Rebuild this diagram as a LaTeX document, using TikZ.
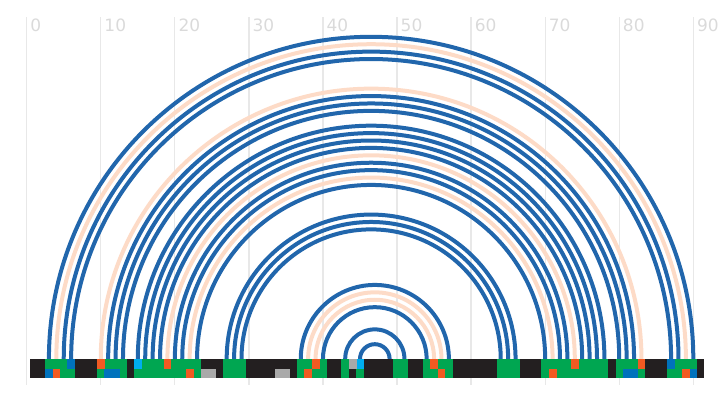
\documentclass[tikz,border=0pt]{standalone}
\usepackage{fontspec}
\setsansfont{DejaVu Sans}
\definecolor{arcblue}{HTML}{2166AC}
\definecolor{arcpeach}{HTML}{FDDBC7}
\definecolor{gridgray}{HTML}{E8E8E8}
\definecolor{labelgray}{HTML}{DADADA}
\definecolor{barblack}{HTML}{231F20}
\definecolor{cgreen}{HTML}{00A651}
\definecolor{cblue}{HTML}{0072BC}
\definecolor{corange}{HTML}{F15A22}
\definecolor{ccyan}{HTML}{00AEEF}
\definecolor{cgray}{HTML}{A9A9A9}
\newcommand{\px}[1]{(26.7+7.4067*(#1))}
\newcommand{\pairarc}[3]{\draw[#1] (n#2) arc[start angle=180, end angle=0, radius={(#3-#2)/2*7.4067}];}
\newcommand{\cellrow}[3]{\foreach \k in {#3} {\fill[#1] ({26.7+7.4067*(\k-0.5)},#2) rectangle ({26.7+7.4067*(\k+0.5)+0.3},#2+9.5);}}
\tikzset{
  bluearc/.style={draw=arcblue, line width=4pt},
  peacharc/.style={draw=arcpeach, line width=4pt},
  gridline/.style={draw=gridgray, line width=1.3pt},
  ticklabel/.style={text=labelgray, font=\sffamily\fontsize{17}{17}\selectfont, inner sep=0pt, anchor=base west},
}
\begin{document}
\begin{tikzpicture}[x=1pt,y=1pt]
\useasboundingbox (0,0) rectangle (728,400);
% grid and labels
\foreach \v in {0,10,...,90} {
  \draw[gridline] ({26.7+7.4067*\v},15) -- ({26.7+7.4067*\v},383);
  \node[ticklabel] (lab\v) at ({26.7+7.4067*\v+3.5},368.3) {\v};
}
% positions
\foreach \i in {1,...,91} {\coordinate (n\i) at ({26.7+7.4067*\i},41);}
% arcs centred at 46.5
\pairarc{bluearc}{3}{90}
\pairarc{peacharc}{4}{89}
\pairarc{bluearc}{5}{88}
\pairarc{bluearc}{6}{87}
\pairarc{peacharc}{10}{83}
\pairarc{bluearc}{11}{82}
\pairarc{bluearc}{12}{81}
\pairarc{bluearc}{13}{80}
\pairarc{bluearc}{15}{78}
\pairarc{bluearc}{16}{77}
\pairarc{bluearc}{17}{76}
\pairarc{bluearc}{18}{75}
\pairarc{peacharc}{19}{74}
\pairarc{bluearc}{20}{73}
\pairarc{bluearc}{21}{72}
\pairarc{peacharc}{22}{71}
\pairarc{bluearc}{23}{70}
\pairarc{bluearc}{27}{66}
\pairarc{bluearc}{28}{65}
\pairarc{bluearc}{29}{64}
% arcs centred at 47
\pairarc{bluearc}{37}{57}
\pairarc{peacharc}{38}{56}
\pairarc{peacharc}{39}{55}
\pairarc{bluearc}{40}{54}
\pairarc{bluearc}{43}{51}
\pairarc{bluearc}{45}{49}
% bar
\fill[barblack] ({26.7+7.4067*0.5},22) rectangle ({26.7+7.4067*91.5},41);
% top row
\cellrow{cgreen}{31.5}{3,4,5,11,12,13,16,17,18,20,21,22,23,27,28,29,37,38,40,43,50,51,54,56,57,64,65,66,70,71,72,73,75,76,77,78,80,81,82,88,89,90}
\cellrow{cblue}{31.5}{6,87}
\cellrow{corange}{31.5}{10,19,39,55,74,83}
\cellrow{ccyan}{31.5}{15,45}
\cellrow{cgray}{31.5}{44}
% bottom row
\cellrow{cgreen}{22}{5,6,10,13,15,16,17,18,19,20,21,23,27,28,29,37,39,40,43,45,50,51,54,55,57,64,65,66,70,72,73,74,75,76,77,78,80,83,87,88}
\cellrow{cblue}{22}{3,11,12,81,82,90}
\cellrow{corange}{22}{4,22,38,56,71,89}
\cellrow{cgray}{22}{24,25,34,35}
\end{tikzpicture}
\end{document}
